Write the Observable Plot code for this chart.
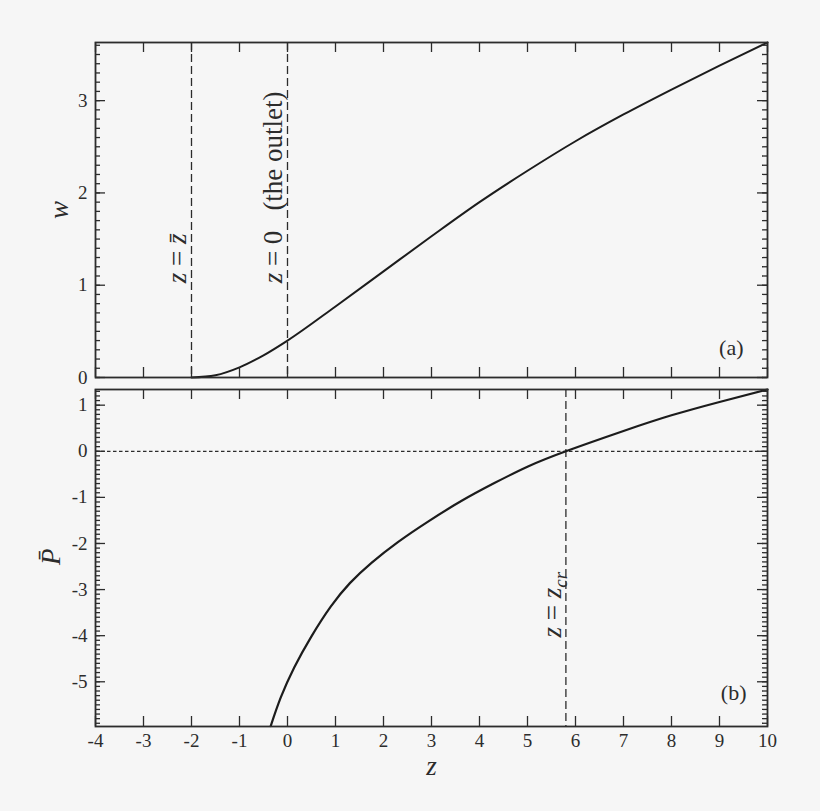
<!DOCTYPE html>
<html><head><meta charset="utf-8">
<script src="https://cdn.jsdelivr.net/npm/d3@7"></script>
<script src="https://cdn.jsdelivr.net/npm/@observablehq/plot@0.6"></script>
<style>
html,body{margin:0;padding:0;background:#f6f6f6;}
#chart{width:820px;height:811px;line-height:0;}
#chart svg{display:block;font-family:"Liberation Serif","Times New Roman",serif !important;}
#chart svg text{font-family:"Liberation Serif","Times New Roman",serif !important;}
</style></head><body><div id="chart"></div>
<script>
// ---- data ----
const zA = [-2, -1.5, -1, -0.5, 0, 1, 2, 3, 4, 5, 6, 7, 8, 9, 10];
const wA = [0, 0.025, 0.11, 0.24, 0.4, 0.77, 1.15, 1.53, 1.9, 2.24, 2.56, 2.85, 3.12, 3.38, 3.63];
const zB = [-0.35, -0.14, 0.14, 0.49, 0.9, 1.3, 1.75, 2.3, 2.92, 3.62, 4.31, 5.01, 5.8, 7, 8, 9, 10];
const pB = [-5.96, -5.34, -4.69, -4.03, -3.37, -2.86, -2.42, -1.97, -1.53, -1.08, -0.69, -0.33, 0, 0.44, 0.78, 1.07, 1.34];
const zDomain = [-4, 10];
const wDomain = [0, 3.63];
const pDomain = [-5.97, 1.34];
const zTicks = [-4, -3, -2, -1, 0, 1, 2, 3, 4, 5, 6, 7, 8, 9, 10];
const wTicks = [0, 1, 2, 3];
const pTicks = [-5, -4, -3, -2, -1, 0, 1];
const zBar = -2, zOutlet = 0, zCr = 5.8, pZero = 0;
const labelsA = [
  {z: zBar, w: 1.02, label: "z = z̄"},
  {z: zOutlet, w: 1.02, label: "z = 0   (the outlet)"}
];
const labelsB = [{z: zCr, p: -4.04, label: "z = zcr"}];
const panelTags = ["(a)", "(b)"];
const axisLabels = {w: "w", p: "P̄", z: "z"};

// ---- layout ----
const W = 820, ML = 95, MR = 53;
const FW = W - ML - MR;
const H1 = 383, MT1 = 42, MB1 = 6, FH1 = H1 - MT1 - MB1;
const H2 = 428, MT2 = 6, MB2 = 85, FH2 = H2 - MT2 - MB2;
const INK = "#2c2c2c", CURVE = "#1c1c1c";
const FONT = "Liberation Serif";
const fmt = d => (d < 0 ? "-" + Math.abs(d) : String(d));

const dataA = zA.map((z, i) => ({z, w: wA[i]}));
const dataB = zB.map((z, i) => ({z, p: pB[i]}));

function frameTicks(yMajor, yMinor, FH) {
  const o = {stroke: INK, strokeWidth: 1.3};
  return [
    Plot.tickX(zTicks, {x: d => d, insetTop: FH - 10, ...o}),
    Plot.tickX(zTicks, {x: d => d, insetBottom: FH - 10, ...o}),
    Plot.tickY(yMajor, {y: d => d, insetRight: FW - 10, ...o}),
    Plot.tickY(yMajor, {y: d => d, insetLeft: FW - 10, ...o}),
    Plot.tickY(yMinor, {y: d => d, insetRight: FW - 5, ...o}),
    Plot.tickY(yMinor, {y: d => d, insetLeft: FW - 5, ...o})
  ];
}

const style = {background: "transparent", color: INK, fontFamily: FONT, overflow: "visible"};

const plotA = Plot.plot({
  width: W, height: H1, marginLeft: ML, marginRight: MR, marginTop: MT1, marginBottom: MB1,
  style,
  x: {domain: zDomain, axis: null},
  y: {domain: wDomain},
  marks: [
    Plot.ruleX([zBar, zOutlet], {stroke: INK, strokeWidth: 1.3, strokeDasharray: "8,4"}),
    Plot.line(dataA, {x: "z", y: "w", stroke: CURVE, strokeWidth: 2, curve: "monotone-x"}),
    ...frameTicks(wTicks, d3.ticks(0, 3.6, 36), FH1),
    Plot.axisY(wTicks, {tickSize: 0, tickPadding: 8, label: null, fontSize: 19, tickFormat: fmt, fontFamily: FONT}),
    Plot.text(labelsA, {x: "z", y: "w", text: "label", rotate: -90, textAnchor: "start", dx: -14, fontSize: 27, fill: INK, fontFamily: FONT}),
    Plot.text([axisLabels.w], {text: d => d, frameAnchor: "left", dx: -36, dy: 9, rotate: -90, fontSize: 27, fontStyle: "italic", fill: INK, fontFamily: FONT}),
    Plot.text([panelTags[0]], {text: d => d, frameAnchor: "bottom-right", textAnchor: "end", dx: -24, dy: -23, fontSize: 22, fill: INK, fontFamily: FONT}),
    Plot.frame({stroke: INK, strokeWidth: 1.8})
  ]
});

const plotB = Plot.plot({
  width: W, height: H2, marginLeft: ML, marginRight: MR, marginTop: MT2, marginBottom: MB2,
  style,
  x: {domain: zDomain},
  y: {domain: pDomain},
  marks: [
    Plot.ruleY([pZero], {stroke: INK, strokeWidth: 1.2, strokeDasharray: "3.5,2.5"}),
    Plot.ruleX([zCr], {stroke: INK, strokeWidth: 1.3, strokeDasharray: "8,4"}),
    Plot.line(dataB, {x: "z", y: "p", stroke: CURVE, strokeWidth: 2.2, curve: "natural"}),
    ...frameTicks(pTicks, d3.ticks(-5.9, 1.3, 72), FH2),
    Plot.axisY(pTicks, {tickSize: 0, tickPadding: 8, label: null, fontSize: 19, tickFormat: fmt, fontFamily: FONT}),
    Plot.axisX(zTicks, {tickSize: 0, tickPadding: 7, label: null, fontSize: 19, tickFormat: fmt, fontFamily: FONT}),
    Plot.text(labelsB, {x: "z", y: "p", text: "label", rotate: -90, textAnchor: "start", dx: -14, fontSize: 27, fill: INK, fontFamily: FONT}),
    Plot.text([axisLabels.p], {text: d => d, frameAnchor: "left", dx: -44, dy: 7, rotate: -90, fontSize: 27, fontStyle: "italic", fill: INK, fontFamily: FONT}),
    Plot.text([axisLabels.z], {text: d => d, frameAnchor: "bottom", dy: 48, fontSize: 27, fontStyle: "italic", fill: INK, fontFamily: FONT}),
    Plot.text([panelTags[1]], {text: d => d, frameAnchor: "bottom-right", textAnchor: "end", dx: -21, dy: -27, fontSize: 22, fill: INK, fontFamily: FONT}),
    Plot.frame({stroke: INK, strokeWidth: 1.8})
  ]
});

// rich text (italic variables, subscript)
const rich = {
  "z = z̄": '<tspan font-style="italic">z</tspan> = <tspan font-style="italic">z̄</tspan>',
  "z = 0   (the outlet)": '<tspan font-style="italic">z</tspan> = 0<tspan dx="20">(the outlet)</tspan>',
  "z = zcr": '<tspan font-style="italic">z</tspan> = <tspan font-style="italic">z</tspan><tspan font-style="italic" font-size="19" dy="6">cr</tspan>'
};
for (const svg of [plotA, plotB]) {
  svg.style.fontFamily = FONT;
  svg.querySelectorAll("text").forEach(t => {
    const k = t.textContent;
    if (rich[k]) t.innerHTML = rich[k];
  });
}

const el = document.getElementById("chart");
el.appendChild(plotA);
el.appendChild(plotB);
</script>
</body></html>
